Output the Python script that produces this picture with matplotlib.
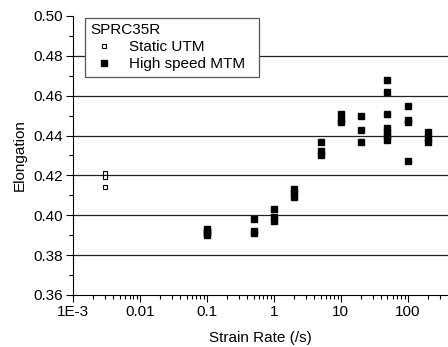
import numpy as np
import matplotlib.pyplot as plt
from matplotlib.ticker import FixedLocator, FixedFormatter, MultipleLocator, LogLocator, NullFormatter

plt.rcParams['font.family'] = ['Liberation Sans', 'DejaVu Sans']

static_rate = [0.003, 0.003, 0.003]
static_elong = [0.421, 0.419, 0.414]

hs_rate = [0.1, 0.1, 0.1, 0.1,
           0.5, 0.5, 0.5,
           1, 1, 1,
           2, 2, 2,
           5, 5, 5,
           10, 10, 10,
           20, 20, 20,
           50, 50, 50, 50, 50, 50, 50,
           100, 100, 100, 100,
           200, 200, 200]
hs_elong = [0.393, 0.392, 0.391, 0.390,
            0.398, 0.392, 0.391,
            0.403, 0.399, 0.397,
            0.413, 0.411, 0.409,
            0.437, 0.432, 0.430,
            0.451, 0.448, 0.447,
            0.450, 0.443, 0.437,
            0.468, 0.462, 0.451, 0.444, 0.442, 0.440, 0.438,
            0.455, 0.448, 0.447, 0.427,
            0.442, 0.439, 0.437]

x_ticks = [1e-3, 0.01, 0.1, 1, 10, 100]
x_labels = ['1E-3', '0.01', '0.1', '1', '10', '100']
y_ticks = [0.36, 0.38, 0.40, 0.42, 0.44, 0.46, 0.48, 0.50]

fs = 11

fig = plt.figure(figsize=(4.48, 3.47), dpi=100)
ax = fig.add_axes([0.163, 0.150, 0.836, 0.804])

for y in y_ticks[1:-1]:
    ax.axhline(y, color='#222222', lw=0.9, zorder=1)

ax.plot(static_rate, static_elong, 's', ms=3.2, mfc='white', mec='black', mew=0.8,
        ls='none', label='Static UTM', zorder=3)
ax.plot(hs_rate, hs_elong, 's', ms=4.2, mfc='black', mec='black',
        ls='none', label='High speed MTM  ', zorder=3)

ax.set_xscale('log')
ax.set_xlim(1e-3, 395)
ax.set_ylim(0.36, 0.50)
ax.xaxis.set_major_locator(FixedLocator(x_ticks))
ax.xaxis.set_major_formatter(FixedFormatter(x_labels))
ax.xaxis.set_minor_locator(LogLocator(base=10, subs=np.arange(2, 10)))
ax.xaxis.set_minor_formatter(NullFormatter())
ax.set_yticks(y_ticks)
ax.set_yticklabels(['%.2f' % v for v in y_ticks])
ax.yaxis.set_minor_locator(MultipleLocator(0.01))

for s in ['top', 'right']:
    ax.spines[s].set_visible(False)
ax.tick_params(which='major', direction='out', length=5, width=0.8, labelsize=fs, pad=2)
ax.tick_params(which='minor', direction='out', length=3, width=0.8)

ax.set_xlabel('Strain Rate (/s)', fontsize=fs, labelpad=9)
ax.set_ylabel('Elongation', fontsize=fs, labelpad=5)

leg = ax.legend(title='SPRC35R', loc='upper left', bbox_to_anchor=(0.032, 0.993),
                fontsize=fs, title_fontsize=fs, frameon=True, fancybox=False,
                borderpad=0.35, handletextpad=0.7, labelspacing=0.2, handlelength=1.8,
                borderaxespad=0.0)
leg._legend_box.align = 'left'
leg.get_frame().set_edgecolor('#555555')
leg.get_frame().set_linewidth(0.9)
leg.get_frame().set_alpha(1)

fig.savefig('out.png', dpi=100)
